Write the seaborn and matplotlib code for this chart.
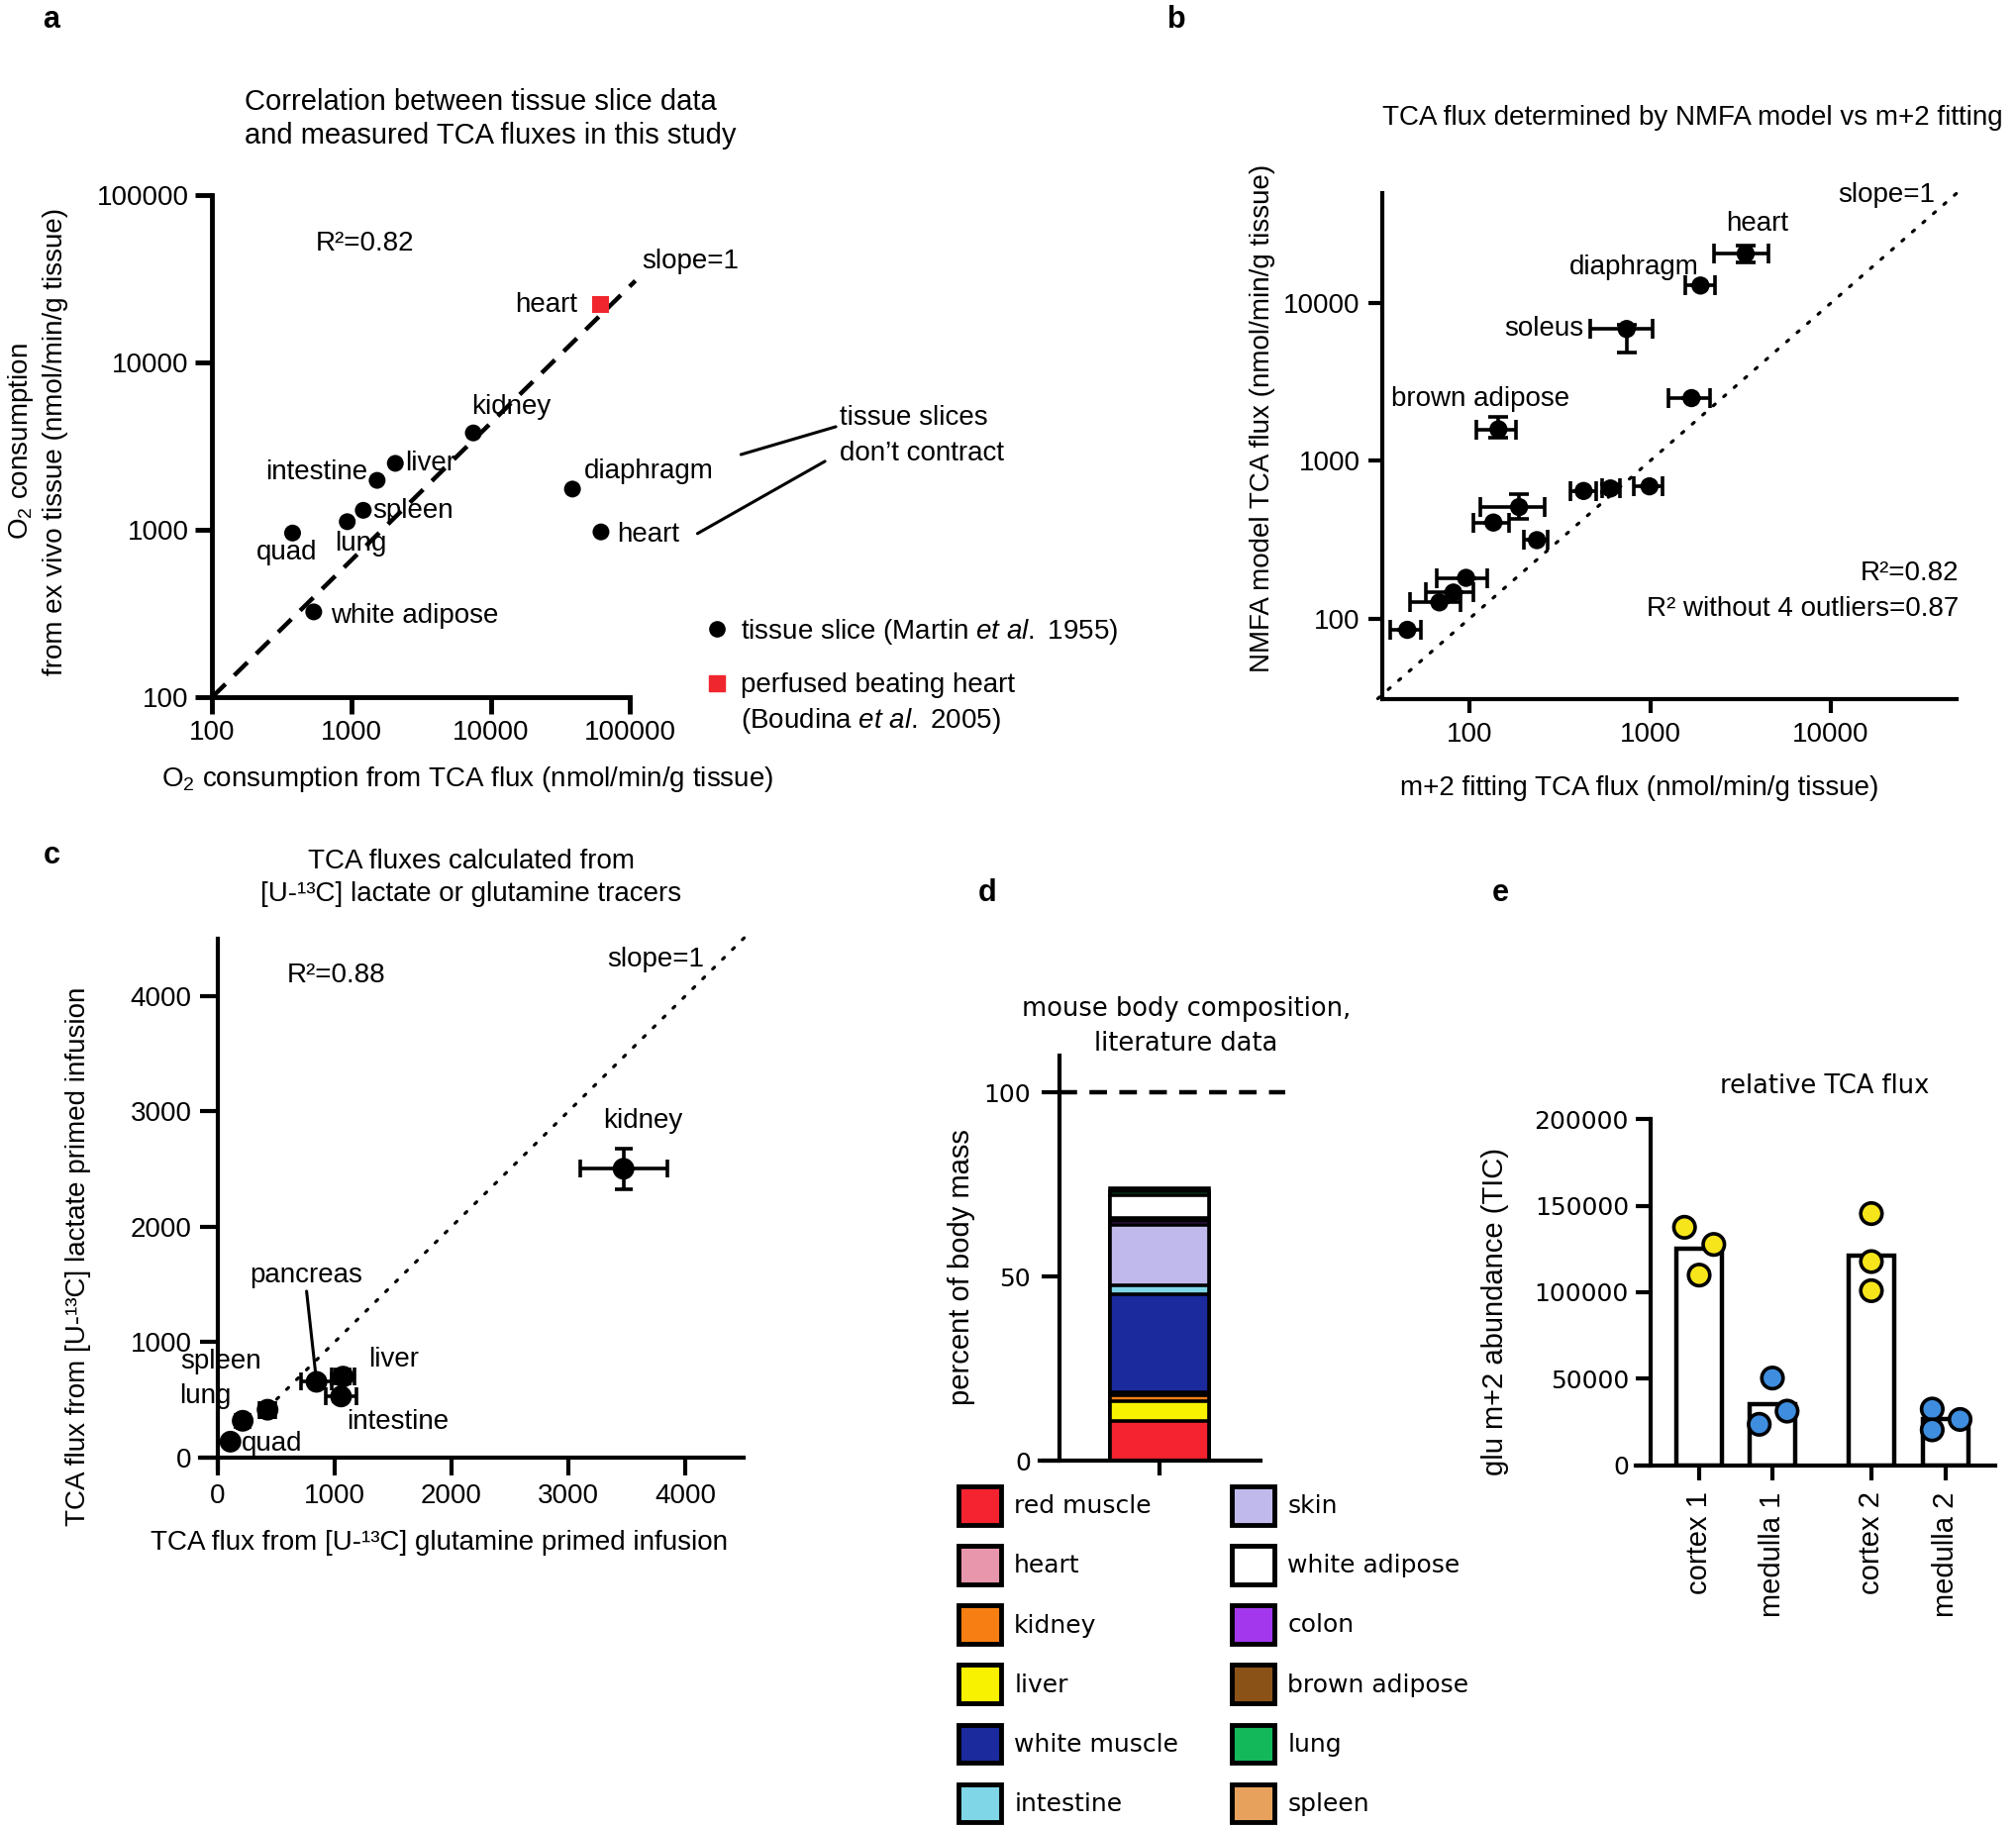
import numpy as np
import pandas as pd
import matplotlib
matplotlib.use("Agg")
import matplotlib.pyplot as plt
import seaborn as sns
from matplotlib.lines import Line2D
from matplotlib.patches import Patch
from matplotlib.ticker import FixedLocator, NullLocator

# ---------------- data ----------------
# a: O2 consumption, tissue slices vs TCA flux (log-log)
a_names = ["kidney", "liver", "intestine", "spleen", "lung", "quad",
           "white adipose", "diaphragm", "heart"]
a_tca_o2 = [7480, 2060, 1525, 1213, 931, 377, 535, 38500, 61700]
a_slice_o2 = [3800, 2500, 1977, 1309, 1119, 957, 323, 1754, 972]
a_perfused_tca = [61700]
a_perfused_o2 = [22200]
a_fit_x = [100, 108900]
a_fit_y = [100, 30900]

# b: NMFA model vs m+2 fitting
b_names = ["heart", "diaphragm", "soleus", "", "brown adipose", "", "", "",
           "", "", "", "", "", "", ""]
b_x = [3380, 1900, 741, 1694, 144.5, 428, 603, 991, 188, 135.5, 236, 95.6, 81.3, 68, 45.2]
b_x_lo = [2265, 1556, 466, 1265, 109, 364, 543, 813, 115, 105, 201, 65.7, 57, 47, 36.3]
b_x_hi = [4520, 2290, 1037, 2147, 181, 502, 681, 1175, 260, 165, 272, 125, 104.7, 89, 54]
b_y = [20600, 12940, 6860, 2500, 1585, 644, 668, 689, 509, 406, 314, 181, 146, 126.5, 84.7]
b_y_lo = [18200, 12940, 4870, 2500, 1395, 644, 630, 689, 431, 406, 314, 181, 146, 126.5, 84.7]
b_y_hi = [23300, 12940, 7300, 2500, 1890, 644, 710, 689, 617, 406, 314, 181, 146, 126.5, 84.7]

# c: lactate vs glutamine tracer
c_names = ["kidney", "pancreas", "liver", "intestine", "spleen", "lung", "quad"]
c_gln = [3473, 845, 1072, 1055, 426, 213, 108]
c_lac = [2503, 655, 700, 528, 413, 317, 136]
c_gln_err = [373, 130, 100, 135, 70, 45, 30]
c_lac_err = [178, 40, 60, 40, 60, 50, 30]

# d: mouse body composition (bottom -> top of the stack)
d_stack = ["red muscle", "liver", "kidney", "heart", "white muscle", "intestine",
           "skin", "colon", "brown adipose", "white adipose", "lung", "spleen"]
d_percent = [10.8, 5.4, 1.6, 0.8, 26.6, 2.4, 16.4, 1.0, 0.9, 6.2, 1.0, 0.9]
d_legend = ["red muscle", "heart", "kidney", "liver", "white muscle", "intestine",
            "skin", "white adipose", "colon", "brown adipose", "lung", "spleen"]
d_colors = {"red muscle": "#f5232f", "heart": "#e896ab", "kidney": "#f77e12",
            "liver": "#f8f200", "white muscle": "#1b2a9c", "intestine": "#7fd6e6",
            "skin": "#c0b9eb", "white adipose": "#ffffff", "colon": "#a237ee",
            "brown adipose": "#8b5218", "lung": "#12b85a", "spleen": "#e7a15c"}

# e: relative TCA flux, kidney cortex / medulla
e_groups = ["cortex 1", "medulla 1", "cortex 2", "medulla 2"]
e_reps = {"cortex 1": [137500, 127600, 109900],
          "medulla 1": [50500, 31400, 23800],
          "cortex 2": [145400, 117700, 100900],
          "medulla 2": [32600, 20600, 26600]}

# ---------------- style ----------------
sns.set_style("ticks", {"axes.edgecolor": "black", "text.color": "black",
                        "xtick.color": "black", "ytick.color": "black",
                        "axes.labelcolor": "black"})
SANS = ["Liberation Sans", "DejaVu Sans"]
WIDE = ["DejaVu Sans"]
plt.rcParams["font.family"] = SANS
plt.rcParams["mathtext.fontset"] = "custom"
plt.rcParams["mathtext.rm"] = "Liberation Sans"
plt.rcParams["mathtext.it"] = "Liberation Sans:italic"
plt.rcParams["mathtext.bf"] = "Liberation Sans:bold"

W, H = 2036, 1844
fig = plt.figure(figsize=(W / 100, H / 100), dpi=100)


def fx(px):
    return px / W


def fy(py):
    return 1 - py / H


def clean(ax, lw, length, size, family=SANS, pad=5):
    sns.despine(ax=ax)
    for s in ("left", "bottom"):
        ax.spines[s].set_linewidth(lw)
    ax.tick_params(which="major", width=lw, length=length, labelsize=size,
                   labelfontfamily=family, pad=pad, direction="out")
    ax.tick_params(which="minor", length=0)


def log_ticks(axis, ticks):
    axis.set_major_locator(FixedLocator(ticks))
    axis.set_minor_locator(NullLocator())
    axis.set_ticklabels([str(t) for t in ticks])


FS = 20
BLACK = "black"
RED = "#f0262e"

# ---------------- panel a ----------------
ax = fig.add_axes([0.1053, 0.6183, 0.2073, 0.2746])
ax.set_xscale("log")
ax.set_yscale("log")
ax.plot(a_fit_x, a_fit_y, color=BLACK, lw=3.2, dashes=(4.2, 2.8), clip_on=False, zorder=2)
sns.scatterplot(x=a_tca_o2, y=a_slice_o2, color=BLACK, s=150, edgecolor="none",
                ax=ax, zorder=3, clip_on=False)
sns.scatterplot(x=a_perfused_tca, y=a_perfused_o2, color=RED, marker="s", s=150,
                edgecolor="none", ax=ax, zorder=3)
ax.set_xlim(100, 100000)
ax.set_ylim(100, 100000)
log_ticks(ax.xaxis, [100, 1000, 10000, 100000])
log_ticks(ax.yaxis, [100, 1000, 10000, 100000])
clean(ax, 3.5, 12, FS, pad=5)

a_off = {"kidney": (-1.6, 18.8, "left"), "liver": (7.4, 0, "left"),
         "intestine": (-6.9, 5.6, "right"), "spleen": (6.9, -0.7, "left"),
         "lung": (-9, -15.8, "left"), "quad": (-26.5, -14.3, "left"),
         "white adipose": (12.2, -2.6, "left"), "diaphragm": (8.5, 12.8, "left"),
         "heart": (11.7, -1.9, "left")}
for n, x, y in zip(a_names, a_tca_o2, a_slice_o2):
    dx, dy, ha = a_off[n]
    ax.annotate(n, (x, y), xytext=(dx, dy), textcoords="offset points",
                ha=ha, va="center", fontsize=FS)
ax.annotate("heart", (a_perfused_tca[0], a_perfused_o2[0]), xytext=(-17.5, 0),
            textcoords="offset points", ha="right", va="center", fontsize=FS)

ax.text(0.0765, 1.186, "Correlation between tissue slice data", transform=ax.transAxes,
        ha="left", va="center", fontsize=21)
ax.text(0.0765, 1.119, "and measured TCA fluxes in this study", transform=ax.transAxes,
        ha="left", va="center", fontsize=21)
ax.text(0.366, 0.905, "R²=0.82", transform=ax.transAxes, ha="center", va="center", fontsize=FS)
ax.text(1.143, 0.869, "slope=1", transform=ax.transAxes, ha="center", va="center", fontsize=FS)
ax.text(-0.418, 0.509, "O$_2$ consumption\nfrom ex vivo tissue (nmol/min/g tissue)",
        transform=ax.transAxes, rotation=90, ha="center", va="center", fontsize=FS,
        linespacing=1.35)
ax.text(0.611, -0.165, "O$_2$ consumption from TCA flux (nmol/min/g tissue)",
        transform=ax.transAxes, ha="center", va="center", fontsize=FS)
ax.text(1.501, 0.556, "tissue slices", transform=ax.transAxes, ha="left", va="center", fontsize=FS)
ax.text(1.501, 0.486, "don’t contract", transform=ax.transAxes, ha="left", va="center", fontsize=FS)
ax.plot([1.265, 1.492], [0.4835, 0.539], color=BLACK, lw=2.2, transform=ax.transAxes, clip_on=False)
ax.plot([1.161, 1.466], [0.326, 0.47], color=BLACK, lw=2.2, transform=ax.transAxes, clip_on=False)

a_handles = [Line2D([], [], marker="o", color=BLACK, ls="none", markersize=11),
             Line2D([], [], marker="s", color=RED, ls="none", markersize=11)]
ax.legend(a_handles, ["tissue slice (Martin $\\it{et\\ al.\\ }$1955)", "perfused beating heart"],
          loc="upper left", bbox_to_anchor=(1.175, 0.160), frameon=False, borderpad=0,
          borderaxespad=0, handlelength=1.0, handletextpad=0.35, labelspacing=0.95,
          fontsize=FS)
ax.text(1.265, -0.047, "(Boudina $\\it{et\\ al.\\ }$2005)", transform=ax.transAxes,
        ha="left", va="center", fontsize=FS)

# ---------------- panel b ----------------
ax = fig.add_axes([0.6856, 0.6169, 0.2851, 0.2774])
ax.set_xscale("log")
ax.set_yscale("log")
ax.plot([31, 50000], [31, 50000], color=BLACK, lw=2.3, ls=(0, (0.8, 3.6)),
        dash_capstyle="round", clip_on=False, zorder=1)
bx = np.array(b_x)
by = np.array(b_y)
ax.errorbar(bx, by, xerr=[bx - np.array(b_x_lo), np.array(b_x_hi) - bx],
            yerr=[by - np.array(b_y_lo), np.array(b_y_hi) - by], fmt="none",
            ecolor=BLACK, elinewidth=2.6, capsize=7, capthick=2.6, zorder=2)
sns.scatterplot(x=b_x, y=b_y, color=BLACK, s=175, edgecolor="none", ax=ax, zorder=3)
ax.set_xlim(32.8, 50000)
ax.set_ylim(30.6, 50000)
log_ticks(ax.xaxis, [100, 1000, 10000])
log_ticks(ax.yaxis, [100, 1000, 10000])
clean(ax, 3, 10, FS, pad=6)

b_off = {"heart": (8.5, 21.4, "center"), "diaphragm": (-1, 13.3, "right"),
         "soleus": (-31, 0, "right"), "brown adipose": (-13, 22, "center")}
for n, x, y in zip(b_names, b_x, b_y):
    if n:
        dx, dy, ha = b_off[n]
        ax.annotate(n, (x, y), xytext=(dx, dy), textcoords="offset points",
                    ha=ha, va="center", fontsize=FS)
ax.text(0.54, 1.148, "TCA flux determined by NMFA model vs m+2 fitting",
        transform=ax.transAxes, ha="center", va="center", fontsize=FS)
ax.text(0.961, 0.995, "slope=1", transform=ax.transAxes, ha="right", va="center", fontsize=FS)
ax.text(1.004, 0.25, "R²=0.82", transform=ax.transAxes, ha="right", va="center", fontsize=FS)
ax.text(1.004, 0.179, "R² without 4 outliers=0.87", transform=ax.transAxes,
        ha="right", va="center", fontsize=FS)
ax.text(-0.2075, 0.556, "NMFA model TCA flux (nmol/min/g tissue)", transform=ax.transAxes,
        rotation=90, ha="center", va="center", fontsize=FS)
ax.text(0.448, -0.175, "m+2 fitting TCA flux (nmol/min/g tissue)", transform=ax.transAxes,
        ha="center", va="center", fontsize=FS)

# ---------------- panel c ----------------
ax = fig.add_axes([0.0990, 0.1959, 0.2698, 0.2901])
ax.plot([420, 4530], [420, 4530], color=BLACK, lw=2.3, ls=(0, (0.8, 3.6)),
        dash_capstyle="round", clip_on=False, zorder=1)
ax.errorbar(c_gln, c_lac, xerr=c_gln_err, yerr=c_lac_err, fmt="none", ecolor=BLACK,
            elinewidth=2.6, capsize=6.5, capthick=2.6, zorder=2)
sns.scatterplot(x=c_gln, y=c_lac, color=BLACK, s=250, edgecolor="none", ax=ax, zorder=3)
ax.set_xlim(-156, 4500)
ax.set_ylim(-95, 4500)
ax.spines["left"].set_position(("data", 0))
ax.spines["bottom"].set_position(("data", 0))
ax.set_xticks([0, 1000, 2000, 3000, 4000])
ax.set_yticks([0, 1000, 2000, 3000, 4000])
clean(ax, 3, 13, FS, pad=6)

c_off = {"kidney": (14, 35, "center"), "liver": (18.5, 12.5, "left"),
         "intestine": (4.3, -18.7, "left"), "spleen": (-4.3, 35.3, "right"),
         "lung": (-8.4, 18, "right"), "quad": (7.7, -1.7, "left")}
for n, x, y in zip(c_names, c_gln, c_lac):
    if n == "pancreas":
        ax.annotate(n, (x, y), xytext=(-7.5, 77.6), textcoords="offset points",
                    ha="center", va="center", fontsize=FS,
                    arrowprops=dict(arrowstyle="-", color=BLACK, lw=2.2, relpos=(0.5, 0.0),
                                    shrinkA=0, shrinkB=7))
    else:
        dx, dy, ha = c_off[n]
        ax.annotate(n, (x, y), xytext=(dx, dy), textcoords="offset points",
                    ha=ha, va="center", fontsize=FS)
ax.text(0.499, 1.146, "TCA fluxes calculated from", transform=ax.transAxes,
        ha="center", va="center", fontsize=FS)
ax.text(0.499, 1.083, "[U-¹³C] lactate or glutamine tracers", transform=ax.transAxes,
        ha="center", va="center", fontsize=FS)
ax.text(0.2504, 0.931, "R²=0.88", transform=ax.transAxes, ha="center", va="center", fontsize=FS)
ax.text(0.838, 0.961, "slope=1", transform=ax.transAxes, ha="center", va="center", fontsize=FS)
ax.text(-0.224, 0.40, "TCA flux from [U-¹³C] lactate primed infusion", transform=ax.transAxes,
        rotation=90, ha="center", va="center", fontsize=FS)
ax.text(0.44, -0.141, "TCA flux from [U-¹³C] glutamine primed infusion",
        transform=ax.transAxes, ha="center", va="center", fontsize=FS)

# ---------------- panel d ----------------
ax = fig.add_axes([0.5157, 0.2001, 0.1097, 0.2217])
tops = np.cumsum(d_percent)
for name, top in reversed(list(zip(d_stack, tops))):
    sns.barplot(x=[0], y=[top], native_scale=True, color=d_colors[name], saturation=1,
                width=1.0, edgecolor=BLACK, linewidth=2.6, errorbar=None, ax=ax)
ax.plot([-1.007, 1.273], [100, 100], color=BLACK, lw=3.2, dashes=(4, 2.8), clip_on=False)
ax.set_xlim(-1.207, 1.027)
ax.set_ylim(0, 110)
ax.spines["left"].set_position(("data", -1.007))
ax.set_xticks([0])
ax.set_xticklabels([""])
ax.set_yticks([0, 50, 100])
clean(ax, 3, 13, 18, family=WIDE, pad=8)
ax.tick_params(axis="x", length=11)
ax.set_xlabel("")
ax.set_ylabel("")
fig.text(fx(1198), fy(1019), "mouse body composition,", ha="center", va="center",
         fontsize=18.5, family=WIDE)
fig.text(fx(1198), fy(1054), "literature data", ha="center", va="center",
         fontsize=18.5, family=WIDE)
fig.text(fx(971), fy(1280), "percent of body mass", rotation=90, ha="center", va="center",
         fontsize=21)
d_handles = [Patch(facecolor=d_colors[n], edgecolor=BLACK, linewidth=3.5) for n in d_legend]
fig.legend(d_handles, d_legend, loc="upper left", bbox_to_anchor=(fx(968), fy(1501)),
           ncol=2, frameon=False, borderpad=0, borderaxespad=0, handlelength=1.7,
           handleheight=2.0, handletextpad=0.55, labelspacing=0.86, columnspacing=2.15,
           prop={"family": WIDE, "size": 18})

# ---------------- panel e ----------------
e_pos = dict(zip(e_groups, [0, 1, 2.35, 3.36]))
e_jitter = {"cortex 1": [-0.2, 0.2, 0.0], "medulla 1": [0.0, 0.2, -0.18],
            "cortex 2": [0.0, 0.0, 0.0], "medulla 2": [-0.18, -0.18, 0.2]}
rows = []
for g in e_groups:
    for v, j in zip(e_reps[g], e_jitter[g]):
        rows.append({"group": g, "tissue": g.split()[0], "value": v,
                     "pos": e_pos[g], "xj": e_pos[g] + j})
df_e = pd.DataFrame(rows)

ax = fig.add_axes([0.8112, 0.1974, 0.1785, 0.1898])
sns.barplot(data=df_e, x="pos", y="value", native_scale=True, estimator="mean",
            errorbar=None, color="white", width=0.62, edgecolor=BLACK, linewidth=3.2, ax=ax)
sns.scatterplot(data=df_e, x="xj", y="value", hue="tissue",
                palette={"cortex": "#f7e51b", "medulla": "#3e8ddf"}, s=240,
                edgecolor=BLACK, linewidth=2.6, legend=False, zorder=4, clip_on=False, ax=ax)
ax.set_xlim(-0.87, 4.04)
ax.set_ylim(0, 200000)
ax.spines["left"].set_position(("data", -0.66))
ax.set_xticks([e_pos[g] for g in e_groups])
ax.set_xticklabels(e_groups, rotation=90, fontsize=21, family=SANS)
ax.set_yticks([0, 50000, 100000, 150000, 200000])
ax.set_yticklabels(["0", "50000", "100000", "150000", "200000"])
clean(ax, 3, 11, 18, family=WIDE, pad=5)
ax.tick_params(axis="x", labelsize=21, labelfontfamily=SANS, pad=8)
ax.set_xlabel("")
ax.set_ylabel("")
fig.text(fx(1843), fy(1097), "relative TCA flux", ha="center", va="center",
         fontsize=18.5, family=WIDE)
fig.text(fx(1510), fy(1325), "glu m+2 abundance (TIC)", rotation=90, ha="center",
         va="center", fontsize=21)

# ---------------- panel letters ----------------
for letter, px, py in [("a", 52, 19.5), ("b", 1188, 19.5), ("c", 52, 863.5),
                       ("d", 997, 902.5), ("e", 1515, 902.5)]:
    fig.text(fx(px), fy(py), letter, ha="center", va="center", fontsize=22,
             weight="bold", family=SANS)

fig.savefig("out.png", dpi=100)
